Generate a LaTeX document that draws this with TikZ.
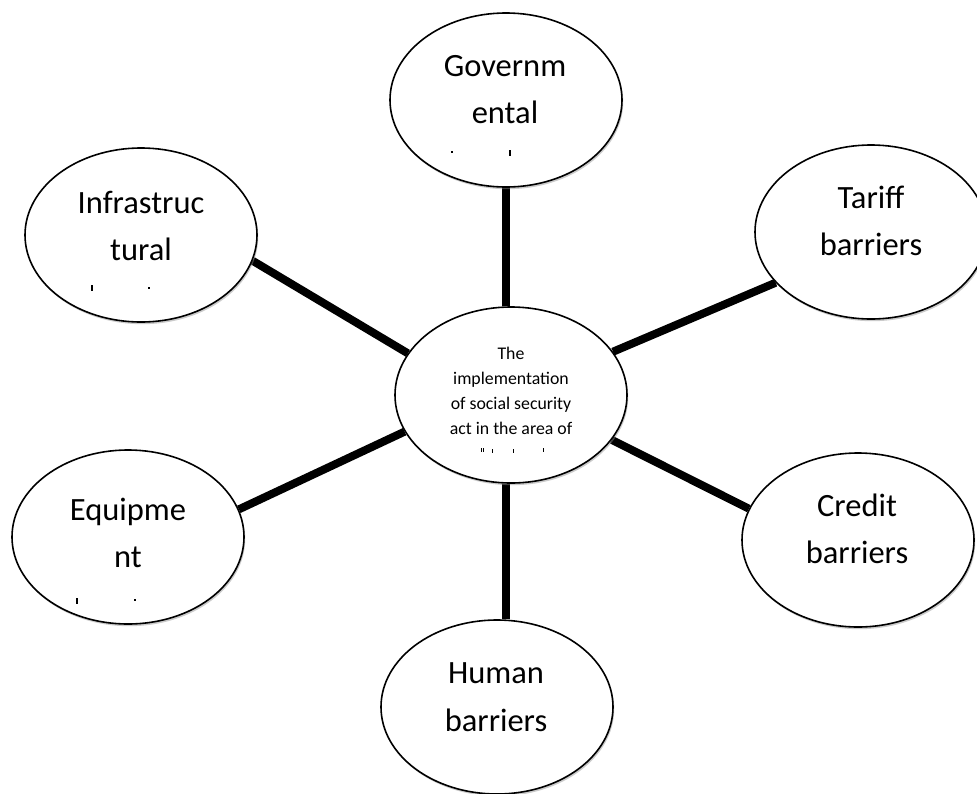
\documentclass[tikz,border=0pt]{standalone}
\usepackage{fontspec}
\setmainfont{Carlito}
\usetikzlibrary{shapes.geometric,shadows,backgrounds}
\begin{document}
\begin{tikzpicture}[x=1pt,y=-1pt,
  ell/.style={ellipse, draw=black, line width=1.6pt, fill=white,
    minimum width=232pt, minimum height=174pt, inner sep=0pt,
    drop shadow={shadow xshift=1.2pt, shadow yshift=-2.2pt, fill=black!45, opacity=.45}},
  lbl/.style={align=center, inner sep=0pt, font=\fontsize{32.5}{47.5}\selectfont},
  clbl/.style={align=center, inner sep=0pt, font=\fontsize{17.8}{25}\selectfont},
  link/.style={line width=8pt, black},
  frag/.style={fill=black}]
\useasboundingbox (0,0) rectangle (977,793);

% ellipses
\node[ell] (gov) at (506,100) {};
\node[ell] (inf) at (141,235) {};
\node[ell] (tar) at (871,232) {};
\node[ell, minimum height=176pt] (ctr) at (511,395) {};
\node[ell] (equ) at (128,537) {};
\node[ell] (cre) at (858,540) {};
\node[ell] (hum) at (497,707) {};

% connectors
\begin{pgfonlayer}{background}
\fill[white] (0,0) rectangle (977,793);
\draw[link] (gov.south) -- (gov.south |- ctr.north);
\draw[link] (ctr.south -| gov.south) -- (hum.north -| gov.south);
\draw[link] (inf.-13) -- (ctr.158.5);
\draw[link] (equ.14.5) -- (ctr.199.2);
\draw[link] (tar.208.4) -- (ctr.23.8);
\draw[link] (cre.164.4) -- (ctr.-24);
\end{pgfonlayer}

% texts
\node[lbl] (tgov) at (505,89.5) {Governm\\ental};
\node[lbl] (tinf) at (141,226) {Infrastruc\\tural};
\node[lbl] (ttar) at (871,221) {Tariff\\barriers};
\node[lbl] (tequ) at (128,533) {Equipme\\nt};
\node[lbl] (tcre) at (857,529) {Credit\\barriers};
\node[lbl] (thum) at (496,697) {Human\\barriers};
\node[clbl] (tctr) at (511,391) {The\\implementation\\of social security\\act in the area of};

% clipped fragments of hidden text lines
\fill[frag] (451,151) rectangle (453.2,153.2);
\fill[frag] (508.5,149.5) rectangle (510.7,155.5);
\fill[frag] (91,284.5) rectangle (93.2,290.5);
\fill[frag] (148,287) rectangle (150.2,289.2);
\fill[frag] (76,598) rectangle (78.2,604);
\fill[frag] (134,599) rectangle (136.2,601.2);
\fill[frag] (480.5,448) rectangle (481.7,452);
\fill[frag] (483,448) rectangle (484.2,452);
\fill[frag] (491.5,449) rectangle (492.7,452.5);
\fill[frag] (512.5,449) rectangle (513.7,452.5);
\fill[frag] (542.5,448) rectangle (543.7,452);
\end{tikzpicture}
\end{document}
